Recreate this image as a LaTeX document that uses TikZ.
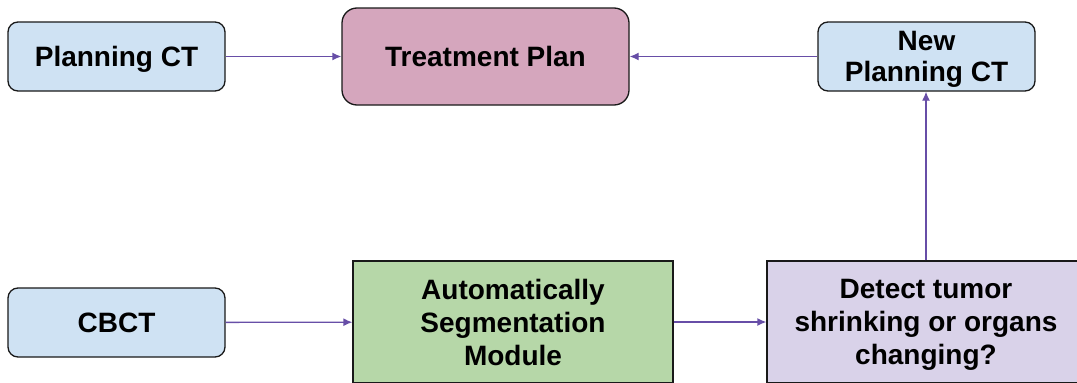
\documentclass[tikz,border=0pt]{standalone}
\usepackage{fontspec}
\setmainfont{Liberation Sans}
\usetikzlibrary{arrows.meta}
\definecolor{lblue}{HTML}{CFE2F3}
\definecolor{lpink}{HTML}{D5A6BD}
\definecolor{lgreen}{HTML}{B6D7A8}
\definecolor{lpurple}{HTML}{D9D2E9}
\definecolor{arrowc}{HTML}{674EA7}
\tikzset{
  box/.style={draw=black!90, line width=1.3pt, inner sep=0pt, align=center, text depth=0pt,
    font=\fontsize{28}{33}\selectfont\bfseries},
  small/.style={box, fill=lblue, rounded corners=10pt, minimum width=217pt, minimum height=69pt},
  conn/.style={draw=arrowc, line width=1.3pt, -{Latex[length=9pt,width=8pt]}}
}
\begin{document}
\begin{tikzpicture}[x=1pt,y=-1pt]
\useasboundingbox (0,0) rectangle (1077,383);
\clip (0,0) rectangle (1077,383);
\node[small] (pct) at (116.5,56.5) {Planning CT};
\node[box, fill=lpink, rounded corners=15pt, minimum width=287pt, minimum height=97pt] (tp) at (485.5,56.5) {Treatment Plan};
\node[small, font=\fontsize{28}{31}\selectfont\bfseries] (npct) at (926.5,56.5) {New\\Planning CT};
\node[small] (cbct) at (116.5,322.5) {CBCT};
\node[box, fill=lgreen, minimum width=320pt, minimum height=122pt] (seg) at (513,322) {Automatically\\Segmentation\\Module};
\node[box, fill=lpurple, minimum width=318pt, minimum height=122pt] (det) at (926,322) {Detect tumor\\shrinking or organs\\changing?};
\draw[conn] (pct) -- (tp);
\draw[conn] (npct) -- (tp);
\draw[conn] (cbct) -- (seg);
\draw[conn] (seg) -- (det);
\draw[conn] (det.north) -- (det.north |- npct.south);
\end{tikzpicture}
\end{document}
